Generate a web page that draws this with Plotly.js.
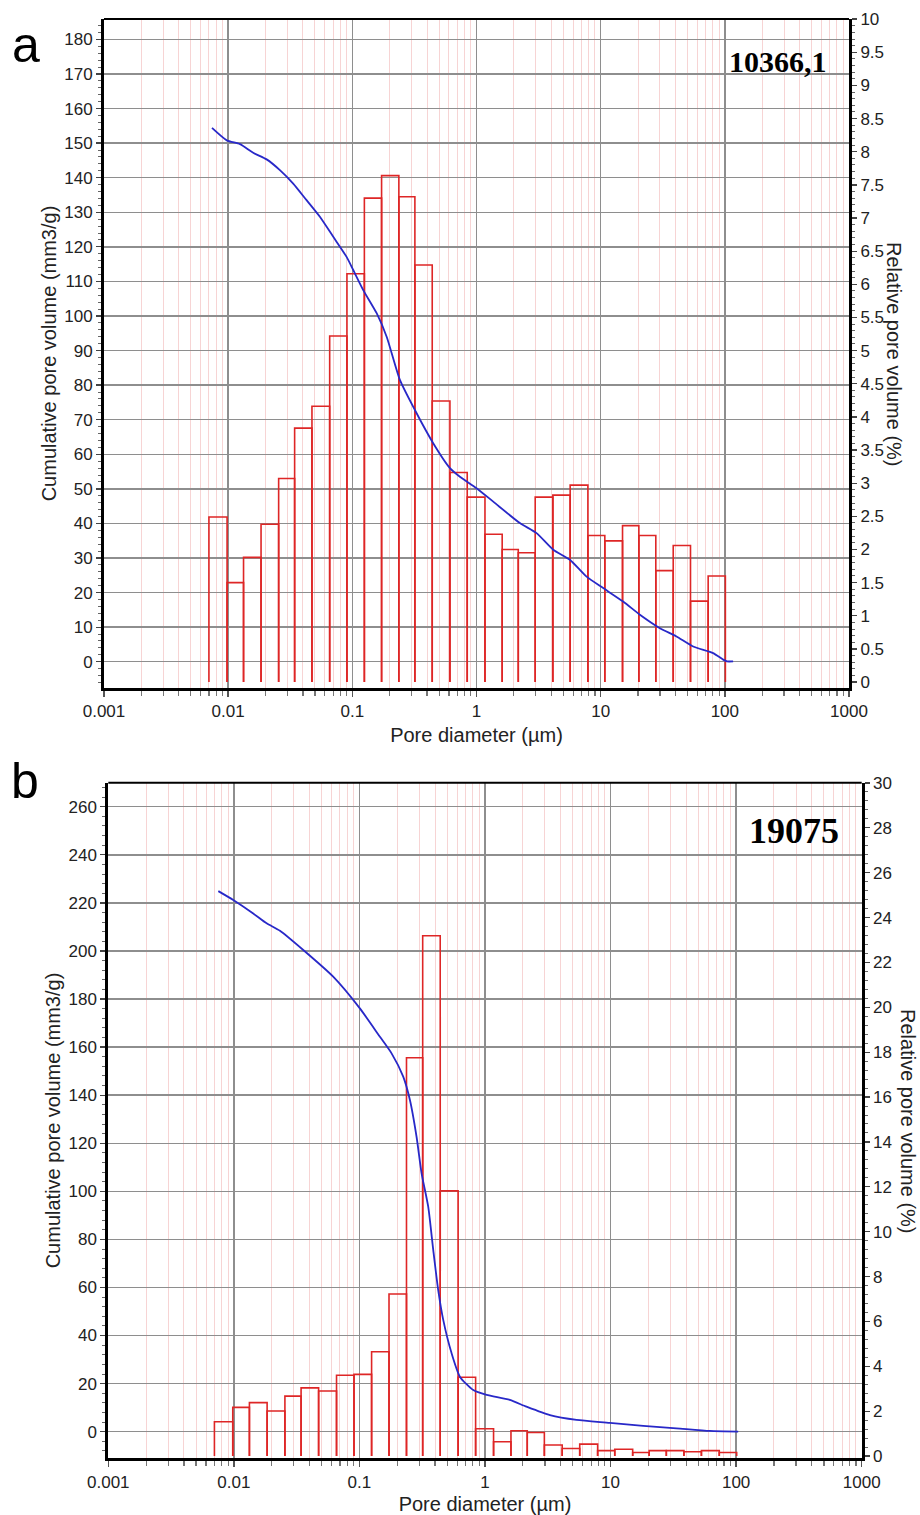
<!DOCTYPE html>
<html>
<head>
<meta charset="utf-8">
<script src="https://cdn.plot.ly/plotly-3.0.1.min.js"></script>
<style>html,body{margin:0;padding:0;background:#fff;}#chart{width:920px;height:1515px;}</style>
</head>
<body>
<div id="chart"></div>
<script>
// ---------------- data ----------------
// pore-diameter bin edges (µm), shared by both samples
const binEdges = [0.0070, 0.0098, 0.0133, 0.0184, 0.0255, 0.0343, 0.0473, 0.0657, 0.0905, 0.125,
  0.172, 0.237, 0.319, 0.440, 0.611, 0.842, 1.17, 1.61, 2.17, 2.97,
  4.12, 5.68, 7.89, 10.8, 15.0, 20.3, 27.8, 38.4, 52.9, 73.4, 101];

// sample 10366,1 – relative pore volume (%) per bin
const relA = [2.49, 1.50, 1.88, 2.38, 3.07, 3.83, 4.16, 5.22, 6.16, 7.30,
  7.64, 7.32, 6.29, 4.24, 3.16, 2.79, 2.23, 2.00, 1.95, 2.79,
  2.82, 2.97, 2.21, 2.13, 2.36, 2.21, 1.68, 2.06, 1.22, 1.60];

// sample 10366,1 – cumulative pore volume (mm3/g)
const cumDiamA = [0.00741, 0.00975, 0.01245, 0.0159, 0.0204, 0.0261, 0.0334, 0.0428, 0.0548, 0.0702,
  0.0899, 0.1017, 0.1224, 0.157, 0.189, 0.2416, 0.319, 0.448, 0.611, 0.735,
  1.0, 1.364, 2.234, 3.046, 4.15, 5.65, 7.70, 10.48, 15.18, 20.7,
  30.0, 40.8, 55.6, 80.5, 96.9, 104, 116.6];
const cumVolA = [154.4, 150.8, 149.7, 147.2, 145.3, 142.2, 138.3, 133.5, 128.7, 122.9,
  117.1, 113.3, 107.5, 100.8, 94.0, 81.5, 72.8, 63.2, 56.0, 53.5,
  50.2, 46.3, 40.1, 37.2, 32.4, 29.5, 24.6, 21.3, 17.4, 13.6,
  9.7, 7.3, 4.4, 2.5, 0.6, 0.1, 0.1];

// sample 19075 – relative pore volume (%) per bin
const relB = [1.53, 2.17, 2.38, 2.01, 2.67, 3.04, 2.90, 3.60, 3.64, 4.65,
  7.22, 17.75, 23.19, 11.82, 3.51, 1.22, 0.64, 1.13, 1.05, 0.49,
  0.34, 0.53, 0.24, 0.30, 0.16, 0.24, 0.24, 0.19, 0.24, 0.16];

// sample 19075 – cumulative pore volume (mm3/g)
const cumDiamB = [0.00752, 0.00989, 0.01426, 0.01823, 0.02328, 0.0357, 0.0618, 0.1008, 0.1456, 0.1803,
  0.2232, 0.2524, 0.285, 0.3126, 0.353, 0.387, 0.424, 0.465, 0.542, 0.631,
  0.806, 1.03, 1.578, 2.14, 3.29, 5.36, 9.87, 18.2, 33.5, 61.8, 103.8];
const cumVolB = [224.9, 221.2, 215.6, 211.5, 208.4, 200.4, 189.3, 176.1, 164.3, 157.4,
  147.7, 138.0, 122.7, 107.5, 93.6, 75.6, 58.9, 46.5, 32.6, 22.9,
  17.3, 15.3, 13.2, 10.4, 6.9, 4.9, 3.7, 2.4, 1.4, 0.3, 0.0];

const xTickVals = [0.001, 0.01, 0.1, 1, 10, 100, 1000];
const xTickText = ['0.001', '0.01', '0.1', '1', '10', '100', '1000'];

const sampleA = '10366,1';
const sampleB = '19075';

// ---------------- helpers ----------------
function barOutline(edges, heights) {
  const x = [], y = [];
  for (let i = 0; i < heights.length; i++) {
    x.push(edges[i], edges[i], edges[i + 1], edges[i + 1], null);
    y.push(0, heights[i], heights[i], 0, null);
  }
  return {x, y};
}

const W = 920, H = 1515;
const px = v => v / W;
const py = v => 1 - v / H;

const FONT = 'Liberation Sans, Arial, sans-serif';
const tickFont = {family: FONT, size: 17, color: '#222'};
const titleFont = {family: FONT, size: 20, color: '#222'};
const GRID = '#8e8e8e';
const MINOR = '#f7d4d4';
const BAR = 'rgb(222,38,38)';
const LINE = 'rgb(40,40,200)';

const barsA = barOutline(binEdges, relA);
const barsB = barOutline(binEdges, relB);

const traces = [
  {x: barsA.x, y: barsA.y, xaxis: 'x', yaxis: 'y', type: 'scatter', mode: 'lines',
   line: {color: BAR, width: 1.6}, connectgaps: false, hoverinfo: 'skip'},
  {x: cumDiamA, y: cumVolA, xaxis: 'x', yaxis: 'y2', type: 'scatter', mode: 'lines',
   line: {color: LINE, width: 1.8, shape: 'spline', smoothing: 0.6}},
  {x: barsB.x, y: barsB.y, xaxis: 'x2', yaxis: 'y3', type: 'scatter', mode: 'lines',
   line: {color: BAR, width: 1.6}, connectgaps: false, hoverinfo: 'skip'},
  {x: cumDiamB, y: cumVolB, xaxis: 'x2', yaxis: 'y4', type: 'scatter', mode: 'lines',
   line: {color: LINE, width: 1.8, shape: 'spline', smoothing: 0.6}}
];

function xAxis(domain, anchor) {
  return {
    type: 'log', domain: domain, anchor: anchor, range: [-3, 3],
    tickmode: 'array', tickvals: xTickVals, ticktext: xTickText,
    ticks: 'outside', ticklen: 6, tickwidth: 1.5, tickcolor: '#555',
    showline: true, linewidth: 3, linecolor: '#000',
    showgrid: true, gridcolor: GRID, gridwidth: 1.5, zeroline: false,
    minor: {dtick: 'D1', showgrid: true, gridcolor: MINOR, gridwidth: 1,
            ticks: 'outside', ticklen: 5, tickwidth: 1.2, tickcolor: '#777'},
    tickfont: tickFont,
    title: {text: 'Pore diameter (µm)', font: titleFont, standoff: 8}
  };
}

function leftAxis(over, anchor, range, dtick, mdtick) {
  return {
    overlaying: over, anchor: anchor, side: 'left', range: range,
    tick0: 0, dtick: dtick, ticks: 'outside', ticklen: 5, tickwidth: 1.3, tickcolor: '#444',
    showline: true, linewidth: 3, linecolor: '#000',
    showgrid: true, gridcolor: GRID, gridwidth: 1.5, zeroline: false,
    minor: {dtick: mdtick, ticks: 'outside', ticklen: 3, tickwidth: 1, tickcolor: '#666', showgrid: false},
    tickfont: tickFont,
    title: {text: 'Cumulative pore volume (mm3/g)', font: titleFont, standoff: 3}
  };
}

function rightAxis(domain, anchor, range, dtick, mdtick) {
  return {
    domain: domain, anchor: anchor, side: 'right', range: range,
    tick0: 0, dtick: dtick, ticks: 'outside', ticklen: 5, tickwidth: 1.3, tickcolor: '#444',
    showline: true, linewidth: 3, linecolor: '#000',
    showgrid: false, zeroline: false,
    minor: {dtick: mdtick, ticks: 'outside', ticklen: 3, tickwidth: 1, tickcolor: '#666', showgrid: false},
    tickfont: tickFont
  };
}

const domAx = [px(104), px(849)], domAy = [py(688), py(19)];
const domBx = [px(108.3), px(861.7)], domBy = [py(1458.3), py(782.7)];

const layout = {
  width: W, height: H, margin: {l: 0, r: 0, t: 0, b: 0},
  paper_bgcolor: '#fff', plot_bgcolor: '#fff', showlegend: false,
  xaxis: xAxis(domAx, 'y'),
  yaxis: rightAxis(domAy, 'x', [-0.09, 10.002], 0.5, 0.1),
  yaxis2: leftAxis('y', 'x', [-7.6, 185.9], 10, 2),
  xaxis2: xAxis(domBx, 'y3'),
  yaxis3: rightAxis(domBy, 'x2', [-0.1, 30.01], 2, 0.4),
  yaxis4: leftAxis('y3', 'x2', [-11.07, 270], 20, 4),
  shapes: [
    {type: 'line', xref: 'paper', yref: 'paper', x0: px(104), x1: px(849), y0: py(19), y1: py(19),
     line: {color: '#000', width: 2}},
    {type: 'line', xref: 'paper', yref: 'paper', x0: px(108.3), x1: px(861.7), y0: py(782.7), y1: py(782.7),
     line: {color: '#000', width: 2}}
  ],
  annotations: [
    {text: 'a', xref: 'paper', yref: 'paper', x: px(26), y: py(45), xanchor: 'center', yanchor: 'middle',
     showarrow: false, font: {family: FONT, size: 50, color: '#000'}},
    {text: 'b', xref: 'paper', yref: 'paper', x: px(25), y: py(781), xanchor: 'center', yanchor: 'middle',
     showarrow: false, font: {family: FONT, size: 50, color: '#000'}},
    {text: '<b>' + sampleA + '</b>', xref: 'paper', yref: 'paper', x: px(777.5), y: py(61), xanchor: 'center', yanchor: 'middle',
     showarrow: false, font: {family: 'Liberation Serif, Times New Roman, serif', size: 30, color: '#000'}},
    {text: '<b>' + sampleB + '</b>', xref: 'paper', yref: 'paper', x: px(793.7), y: py(831), xanchor: 'center', yanchor: 'middle',
     showarrow: false, font: {family: 'Liberation Serif, Times New Roman, serif', size: 36, color: '#000'}},
    {text: 'Relative pore volume (%)', xref: 'paper', yref: 'paper', x: px(894), y: py(354), xanchor: 'center', yanchor: 'middle',
     textangle: 90, showarrow: false, font: titleFont},
    {text: 'Relative pore volume (%)', xref: 'paper', yref: 'paper', x: px(908), y: py(1121), xanchor: 'center', yanchor: 'middle',
     textangle: 90, showarrow: false, font: titleFont}
  ]
};

Plotly.newPlot('chart', traces, layout, {displayModeBar: false, staticPlot: true});
</script>
</body>
</html>
